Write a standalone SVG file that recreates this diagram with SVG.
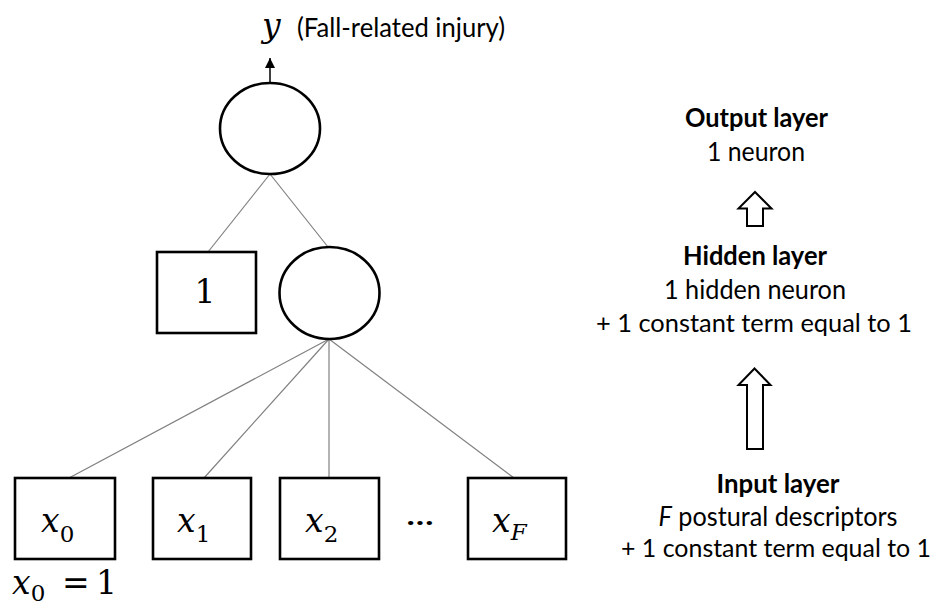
<svg xmlns="http://www.w3.org/2000/svg" width="939" height="608" viewBox="0 0 939 608">
<defs>
<style>
.node{fill:#fff;stroke:#000;stroke-width:2.6}
.conn{stroke:#808080;stroke-width:1.2;fill:none}
.hollow{fill:#fff;stroke:#000;stroke-width:2}
.t{font-family:Lato,"Open Sans","Liberation Sans",sans-serif;font-size:26.5px;fill:#000}
.c{font-size:25px}
.b{font-weight:bold}
.m{font-family:"DejaVu Serif","Liberation Serif",serif;font-size:33px;fill:#000}
.mi{font-style:italic}
.sub{font-size:23px}
</style>
<marker id="ah" viewBox="0 0 10 10" refX="10" refY="5" markerWidth="10" markerHeight="10" markerUnits="userSpaceOnUse" orient="auto">
<path d="M0,0 L10,5 L0,10 z" fill="#000"/>
</marker>
</defs>
<rect width="939" height="608" fill="#fff"/>

<g id="connectors">
<line class="conn" x1="270" y1="174" x2="208" y2="252"/>
<line class="conn" x1="270" y1="174" x2="328" y2="247"/>
<line class="conn" x1="329" y1="339" x2="69" y2="478"/>
<line class="conn" x1="329" y1="339" x2="204" y2="478"/>
<line class="conn" x1="329" y1="339" x2="329" y2="478"/>
<line class="conn" x1="329" y1="339" x2="514" y2="478"/>
<line x1="270" y1="83" x2="270" y2="58" stroke="#000" stroke-width="1.5" marker-end="url(#ah)"/>
</g>

<g id="output-label">
<text class="m mi" x="262" y="37">y</text>
<text class="t" x="297" y="37" textLength="208" lengthAdjust="spacingAndGlyphs">(Fall-related injury)</text>
</g>

<g id="output-neuron">
<ellipse class="node" cx="270" cy="128.5" rx="50" ry="45.5"/>
</g>

<g id="bias-hidden">
<rect class="node" x="157" y="252" width="99" height="81"/>
<text class="m" x="205" y="303" text-anchor="middle">1</text>
</g>

<g id="hidden-neuron">
<ellipse class="node" cx="329.5" cy="293" rx="50" ry="46"/>
</g>

<g id="x0">
<rect class="node" x="15" y="478" width="100" height="81"/>
<text class="m" x="41" y="532"><tspan class="mi">x</tspan><tspan class="sub" dy="10">0</tspan></text>
</g>
<g id="x1">
<rect class="node" x="153" y="478" width="98" height="81"/>
<text class="m" x="177" y="532"><tspan class="mi">x</tspan><tspan class="sub" dy="10">1</tspan></text>
</g>
<g id="x2">
<rect class="node" x="280" y="478" width="99" height="81"/>
<text class="m" x="305" y="532"><tspan class="mi">x</tspan><tspan class="sub" dy="10">2</tspan></text>
</g>
<g id="dots">
<text class="t b" x="420" y="525" text-anchor="middle" font-size="36" textLength="27" lengthAdjust="spacingAndGlyphs">…</text>
</g>
<g id="xF">
<rect class="node" x="468" y="478" width="98" height="81"/>
<text class="m" x="492" y="532"><tspan class="mi">x</tspan><tspan class="sub mi" dy="8">F</tspan></text>
</g>

<g id="x0-note">
<text class="m" x="12" y="594"><tspan class="mi">x</tspan><tspan class="sub" dy="7">0</tspan><tspan x="62" dy="-7">=</tspan><tspan x="96">1</tspan></text>
</g>

<g id="legend-output">
<text class="t b" x="756.5" y="127" text-anchor="middle" textLength="143" lengthAdjust="spacingAndGlyphs">Output layer</text>
<text class="t" x="756" y="161" text-anchor="middle" textLength="98" lengthAdjust="spacingAndGlyphs">1 neuron</text>
</g>
<g id="arrow-small">
<path class="hollow" d="M755,192 L771.5,208.5 L763,208.5 L763,226 L747,226 L747,208.5 L738.5,208.5 Z"/>
</g>
<g id="legend-hidden">
<text class="t b" x="755" y="265" text-anchor="middle" textLength="144" lengthAdjust="spacingAndGlyphs">Hidden layer</text>
<text class="t" x="755" y="299" text-anchor="middle" textLength="182" lengthAdjust="spacingAndGlyphs">1 hidden neuron</text>
<text class="t c" x="754" y="332" text-anchor="middle" textLength="316" lengthAdjust="spacingAndGlyphs">+ 1 constant term equal to 1</text>
</g>
<g id="arrow-big">
<path class="hollow" d="M754.5,368.5 L770.5,385 L763,385 L763,449 L747,449 L747,385 L738.5,385 Z"/>
</g>
<g id="legend-input">
<text class="t b" x="778" y="493" text-anchor="middle" textLength="123" lengthAdjust="spacingAndGlyphs">Input layer</text>
<text class="t" x="778" y="526" text-anchor="middle" textLength="239" lengthAdjust="spacingAndGlyphs"><tspan font-style="italic">F</tspan> postural descriptors</text>
<text class="t c" x="776" y="557" text-anchor="middle" textLength="310" lengthAdjust="spacingAndGlyphs">+ 1 constant term equal to 1</text>
</g>
</svg>
